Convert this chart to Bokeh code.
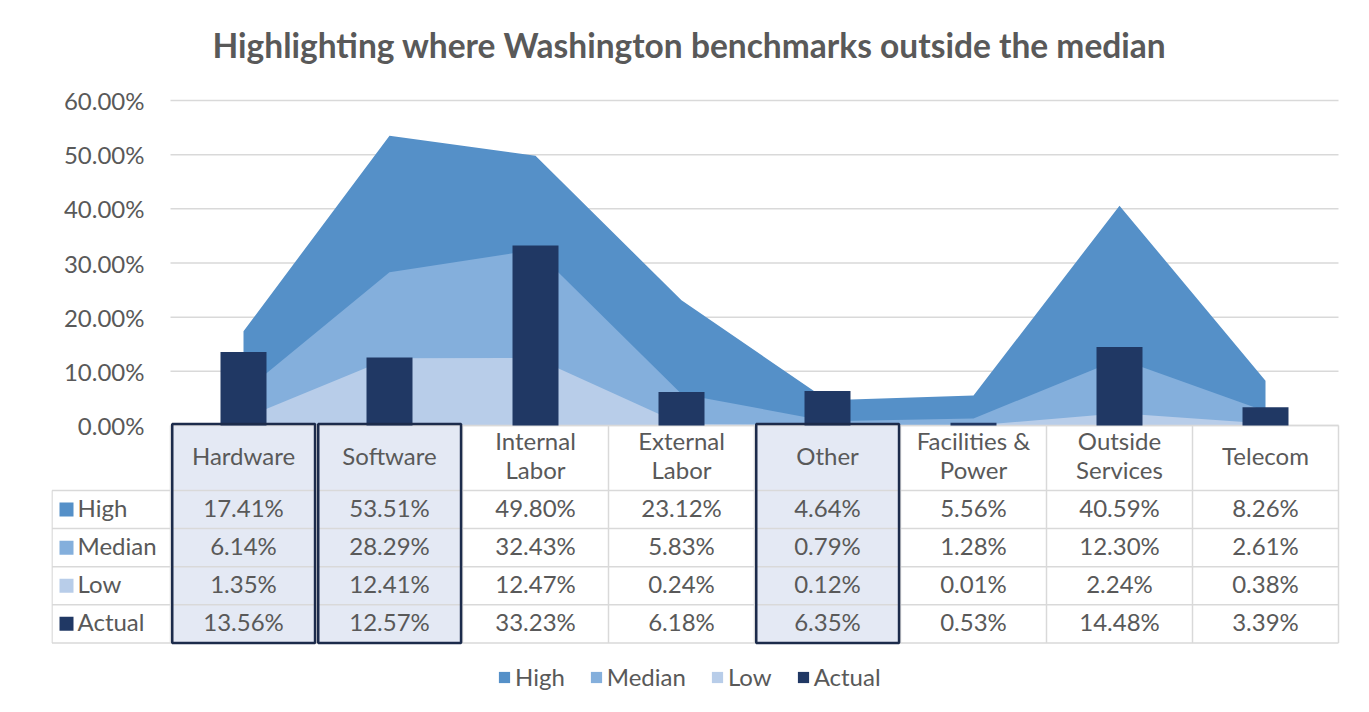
from bokeh.plotting import figure
from bokeh.models import (ColumnDataSource, FixedTicker, PrintfTickFormatter,
                          Legend, LegendItem)
from bokeh.core.properties import value
from bokeh.embed import file_html
from bokeh.resources import INLINE

# ---------------- data ----------------
categories = ["Hardware", "Software", "Internal Labor", "External Labor",
              "Other", "Facilities & Power", "Outside Services", "Telecom"]
header_labels = ["Hardware", "Software", "Internal\nLabor", "External\nLabor",
                 "Other", "Facilities &\nPower", "Outside\nServices", "Telecom"]
high = [17.41, 53.51, 49.80, 23.12, 4.64, 5.56, 40.59, 8.26]
median = [6.14, 28.29, 32.43, 5.83, 0.79, 1.28, 12.30, 2.61]
low = [1.35, 12.41, 12.47, 0.24, 0.12, 0.01, 2.24, 0.38]
actual = [13.56, 12.57, 33.23, 6.18, 6.35, 0.53, 14.48, 3.39]
highlighted = ["Hardware", "Software", "Other"]
series_names = ["High", "Median", "Low", "Actual"]
y_ticks = [0, 10, 20, 30, 40, 50, 60]
title_text = "Highlighting where Washington benchmarks outside the median"

# ---------------- styles ----------------
C_HIGH, C_MED, C_LOW, C_ACT = "#5590c8", "#84afdc", "#b8cde9", "#203864"
series_colors = [C_HIGH, C_MED, C_LOW, C_ACT]
TXT = "#595959"
GRID = "#d9d9d9"
HL_FILL, HL_LINE = "#e4e9f4", "#1c2b4b"
FONT = "Lato"
FS = "24px"

# layout in screenshot pixels; figure origin observed at (OX, OY)
OX, OY = 1, 0
W, H = 1360, 706
COL_W = 146.0
X_CAT0 = 171.0            # x of left edge of first category
Y_ZERO, Y_60 = 425.0, 100.0
PX = (Y_ZERO - Y_60) / 60.0
F_LEFT, F_RIGHT, F_TOP, F_BOTTOM = 52.0, 1342.0, 86.0, 706.0
TXT_DY = 2.5              # text glyphs render slightly low; lift them


def xr(px):
    return (px - X_CAT0) / COL_W


def yr(py):
    return (Y_ZERO - py) / PX


p = figure(width=W, height=H, output_backend="svg", toolbar_location=None,
           x_range=(xr(F_LEFT), xr(F_RIGHT)), y_range=(yr(F_BOTTOM), yr(F_TOP)),
           x_axis_location=None,
           min_border_left=int(F_LEFT - OX), min_border_right=int(W - (F_RIGHT - OX)),
           min_border_top=int(F_TOP - OY), min_border_bottom=int(H - (F_BOTTOM - OY)),
           background_fill_color="white", border_fill_color="white",
           outline_line_color=None)
p.xgrid.visible = False
p.ygrid.visible = False

# title
p.title.text = title_text
p.title.align = "left"
p.title.text_font = FONT
p.title.text_font_style = "bold"
p.title.text_font_size = "33.5px"
p.title.text_color = TXT
p.title.offset = 161
p.title.standoff = 44

# y axis at the left edge of the category area
ax = p.yaxis[0]
ax.fixed_location = 0
ax.ticker = FixedTicker(ticks=y_ticks)
ax.formatter = PrintfTickFormatter(format="%.2f%%")
ax.axis_line_color = None
ax.major_tick_line_color = None
ax.minor_tick_line_color = None
ax.major_label_standoff = 20
ax.major_label_text_font = FONT
ax.major_label_text_font_size = FS
ax.major_label_text_color = TXT

n = len(categories)
centers = [i + 0.5 for i in range(n)]

# gridlines
p.segment(x0=[0] * len(y_ticks), x1=[n] * len(y_ticks), y0=y_ticks, y1=y_ticks,
          line_color=GRID, line_width=1.5)

src = ColumnDataSource(dict(x=centers, cat=categories, high=high, median=median,
                            low=low, actual=actual))
r_high = p.varea(x="x", y1=0, y2="high", source=src, fill_color=C_HIGH)
r_med = p.varea(x="x", y1=0, y2="median", source=src, fill_color=C_MED)
r_low = p.varea(x="x", y1=0, y2="low", source=src, fill_color=C_LOW)

# ---------------- data table ----------------
ROW_EDGES = [490.0, 528.1, 566.2, 604.3, 642.4]
hl_idx = [categories.index(c) for c in highlighted]
hl = dict(left=[i + 0.012 for i in hl_idx], right=[i + 0.99 for i in hl_idx],
          top=[yr(423.5)] * len(hl_idx), bottom=[yr(ROW_EDGES[-1])] * len(hl_idx))
p.quad(left=hl["left"], right=hl["right"], top=hl["top"], bottom=hl["bottom"],
       fill_color=HL_FILL, line_color=None)

# horizontal table lines
hx0, hx1, hy = [0], [n], [0]
for e in ROW_EDGES:
    hx0.append(xr(F_LEFT + 0.5)); hx1.append(n); hy.append(yr(e))
p.segment(x0=hx0, x1=hx1, y0=hy, y1=hy, line_color=GRID, line_width=1.5)
# vertical table lines
vx, vy0, vy1 = [xr(F_LEFT + 0.5)], [yr(ROW_EDGES[0])], [yr(ROW_EDGES[-1])]
for i in range(n + 1):
    vx.append(i); vy0.append(0); vy1.append(yr(ROW_EDGES[-1]))
p.segment(x0=vx, x1=vx, y0=vy0, y1=vy1, line_color=GRID, line_width=1.5)

# actual bars
r_act = p.vbar(x="x", top="actual", bottom=0, width=0.315, source=src,
               fill_color=C_ACT, line_color=None)

# highlight borders
p.quad(left=hl["left"], right=hl["right"], top=hl["top"], bottom=hl["bottom"],
       fill_color=None, line_color=HL_LINE, line_width=2.5)

# header texts
p.text(x=centers, y=[yr(457.0 - TXT_DY)] * n, text=header_labels, text_align="center",
       text_baseline="middle", text_font=value(FONT), text_font_size=value(FS),
       text_color=TXT, text_line_height=0.98)

# row texts
row_mid_px = [(ROW_EDGES[k] + ROW_EDGES[k + 1]) / 2 for k in range(4)]
row_mid = [yr(m) for m in row_mid_px]
row_txt = [yr(m - TXT_DY) for m in row_mid_px]
rows = [high, median, low, actual]
vx_, vy_, vt_ = [], [], []
for k, vals in enumerate(rows):
    for i, v in enumerate(vals):
        vx_.append(centers[i]); vy_.append(row_txt[k]); vt_.append(f"{v:.2f}%")
p.text(x=vx_, y=vy_, text=vt_, text_align="center", text_baseline="middle",
       text_font=value(FONT), text_font_size=value(FS), text_color=TXT)

# row legend keys and labels
p.scatter(x=[xr(67)] * 4, y=row_mid, marker="square", size=14,
          fill_color=series_colors, line_color=None)
p.text(x=[xr(78)] * 4, y=row_txt, text=series_names, text_align="left",
       text_baseline="middle", text_font=value(FONT), text_font_size=value(FS),
       text_color=TXT)

# bottom legend
legend = Legend(items=[LegendItem(label=series_names[0], renderers=[r_high]),
                       LegendItem(label=series_names[1], renderers=[r_med]),
                       LegendItem(label=series_names[2], renderers=[r_low]),
                       LegendItem(label=series_names[3], renderers=[r_act])],
                orientation="horizontal", location=(int(498 - F_LEFT), 15),
                glyph_width=14, glyph_height=14, label_standoff=4, spacing=24,
                padding=0, margin=0, border_line_color=None,
                background_fill_alpha=0, label_text_font=FONT,
                label_text_font_size=FS, label_text_color=TXT)
p.add_layout(legend)

open("out.html", "w").write(file_html(p, INLINE))
